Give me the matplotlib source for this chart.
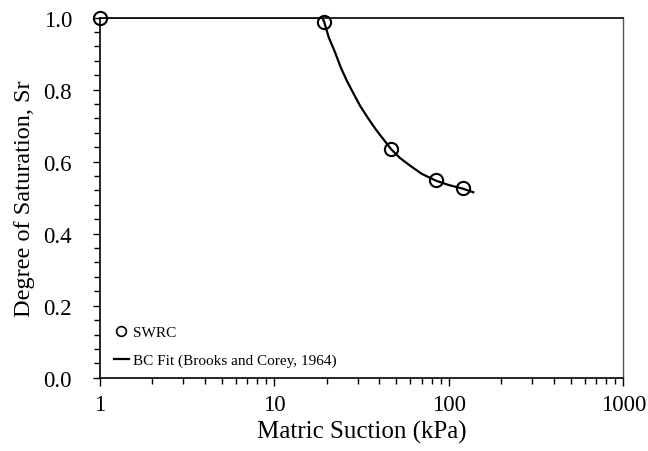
import matplotlib
matplotlib.use("Agg")
import matplotlib.pyplot as plt
from matplotlib.ticker import FixedLocator, LogLocator, NullFormatter

plt.rcParams["font.family"] = ["Liberation Serif", "DejaVu Serif"]

# measured SWRC points
swrc_suction = [1.0, 19.3, 46.6, 84.5, 120.2]
swrc_sr = [1.0, 0.988, 0.635, 0.548, 0.527]

# Brooks-Corey fit curve
fit_suction = [1.0, 18.8, 19.3, 20.5, 22.3, 24.0, 26.0, 28.5, 31.0, 34.5, 38.6, 42.5,
               46.6, 52.5, 59.9, 70.0, 84.5, 100.0, 120.2, 138.0]
fit_sr = [1.0, 1.0, 0.988, 0.945, 0.903, 0.862, 0.825, 0.788, 0.755, 0.72, 0.686, 0.66,
          0.635, 0.61, 0.589, 0.566, 0.547, 0.535, 0.525, 0.515]

x_ticks = [1, 10, 100, 1000]
y_ticks = [0.0, 0.2, 0.4, 0.6, 0.8, 1.0]


def main() -> None:
    fig = plt.figure(figsize=(6.48, 4.52), dpi=100)
    ax = fig.add_axes([0.154, 0.162, 0.808, 0.797])

    ax.plot(fit_suction, fit_sr, color="black", lw=1.6, zorder=3,
            label="BC Fit (Brooks and Corey, 1964)")
    ax.plot(swrc_suction, swrc_sr, ls="none", marker="o", ms=9.5, mfc="none",
            mec="black", mew=1.5, zorder=4, clip_on=False, label="SWRC")

    ax.set_xscale("log")
    ax.set_xlim(1, 1000)
    ax.set_ylim(0, 1.0)
    ax.set_xticks(x_ticks)
    ax.set_xticklabels([str(t) for t in x_ticks])
    ax.xaxis.set_minor_locator(LogLocator(base=10, subs=range(2, 10)))
    ax.xaxis.set_minor_formatter(NullFormatter())
    ax.set_yticks(y_ticks)
    ax.set_yticklabels([f"{t:.1f}" for t in y_ticks])
    ax.yaxis.set_minor_locator(FixedLocator([i * 0.04 for i in range(26)]))

    ax.tick_params(axis="both", which="major", direction="out", length=5, width=1,
                   labelsize=16.5, colors="black")
    ax.tick_params(axis="both", which="minor", direction="out", length=4, width=1)
    ax.tick_params(axis="x", which="major", length=6, pad=6)
    ax.tick_params(axis="y", which="major", pad=15)

    for side in ["left", "bottom", "top"]:
        ax.spines[side].set_color("black")
        ax.spines[side].set_linewidth(1.2)
    ax.spines["right"].set_color("#595959")
    ax.spines["right"].set_linewidth(1.0)

    ax.set_xlabel("Matric Suction (kPa)", fontsize=18, labelpad=3)
    ax.set_ylabel("Degree of Saturation, Sr", fontsize=17.5, labelpad=6)

    handles, labels = ax.get_legend_handles_labels()
    leg = ax.legend(handles[::-1], labels[::-1], loc="lower left", frameon=False,
                    fontsize=11, handlelength=1.0, handletextpad=0.3,
                    labelspacing=0.9, borderaxespad=0.3,
                    bbox_to_anchor=(0.006, 0.0))
    for h in leg.legend_handles:
        h.set_markersize(7)
        h.set_markeredgewidth(1.2)

    fig.savefig("out.png", dpi=100)
    plt.close(fig)


if __name__ == "__main__":
    main()
